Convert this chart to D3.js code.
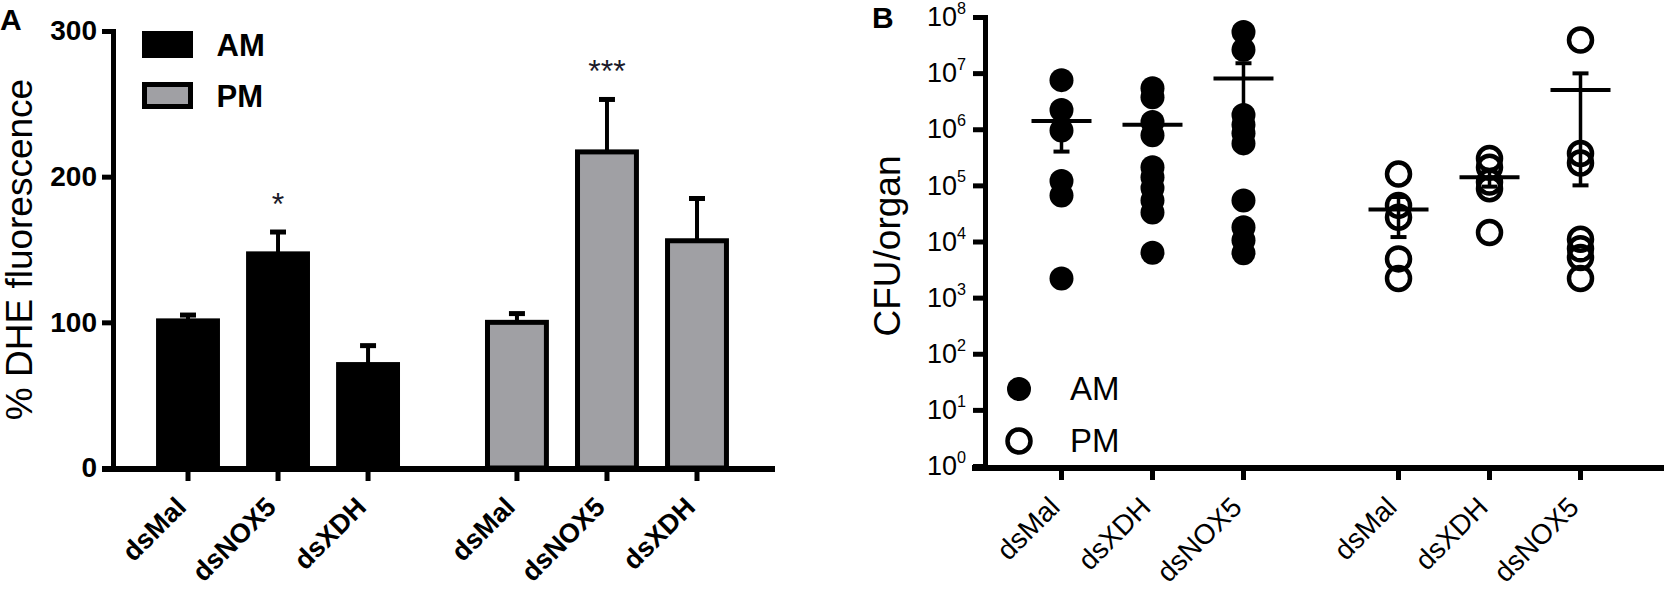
<!DOCTYPE html>
<html>
<head>
<meta charset="utf-8">
<script src="https://cdn.jsdelivr.net/npm/d3@7"></script>
<style>
    body { margin: 0; background: #fff; }
    svg { display: block; }
</style>
</head>
<body>
<svg id="chart" width="1669" height="592"></svg>
<script>

// ---- Panel A data: % DHE fluorescence (bar = mean, whisker = SEM)
const groups = ["AM", "PM"];
const dheCategories = ["dsMal", "dsNOX5", "dsXDH"];
const dheAM = [101, 147, 71];
const dheAMErr = [4, 15, 13];
const dhePM = [100, 217, 156];
const dhePMErr = [6, 36, 29];
const dheAMStars = ["", "*", ""];
const dhePMStars = ["", "***", ""];
const dheTicks = [0, 100, 200, 300];

// ---- Panel B data: CFU/organ (one value per animal, mean and SEM)
const cfuCategories = ["dsMal", "dsXDH", "dsNOX5"];
const cfuAMPoints = [
    [7.5e6, 2.2e6, 9.5e5, 1.2e5, 6.6e4, 2.2e3],
    [5.4e6, 3.7e6, 1.35e6, 7.8e5, 2.1e5, 1.4e5, 9e4, 5.4e4, 3.3e4, 6.3e3],
    [5.4e7, 2.6e7, 1.8e6, 1.2e6, 8.5e5, 5.6e5, 5.4e4, 1.8e4, 1.05e4, 6.2e3]
];
const cfuPMPoints = [
    [1.6e5, 4.4e4, 2.7e4, 4.9e3, 2.2e3],
    [3e5, 2.1e5, 1.15e5, 8.7e4, 1.45e4],
    [3.9e7, 3.7e5, 2.5e5, 1.1e4, 7.4e3, 5.2e3, 2.2e3]
];
const cfuAMMean = [1.4e6, 1.2e6, 8e6];
const cfuAMSem = [1.0e6, 5.5e5, 7e6];
const cfuPMMean = [3.7e4, 1.4e5, 5e6];
const cfuPMSem = [2.5e4, 4.5e4, 4.9e6];
const cfuTicks = [1, 1e1, 1e2, 1e3, 1e4, 1e5, 1e6, 1e7, 1e8];

const font = "'Liberation Sans', Arial, Helvetica, sans-serif";
const gray = "#a0a0a4";
const svg = d3.select("#chart").attr("font-family", font);

/**
 * Draws panel A, the grouped bar chart.
 */
function drawPanelA() {
    let g = svg.append("g");

    let y = d3.scaleLinear().domain([0, 300]).range([468, 31]);
    let x0 = d3.scaleBand().domain(groups).range([143, 742]).paddingInner(0.179);
    let x1 = d3.scaleBand()
        .domain(dheCategories)
        .range([0, x0.bandwidth()])
        .paddingInner(0.29)
        .paddingOuter(0.145);

    let rows = [];
    dheCategories.forEach((c, i) => {
        rows.push({group: "AM", cat: c, value: dheAM[i], err: dheAMErr[i], star: dheAMStars[i]});
    });
    dheCategories.forEach((c, i) => {
        rows.push({group: "PM", cat: c, value: dhePM[i], err: dhePMErr[i], star: dhePMStars[i]});
    });
    let cx = d => x0(d.group) + x1(d.cat) + x1.bandwidth() / 2;

    // bars
    g.selectAll("rect.bar")
        .data(rows)
        .join("rect")
        .attr("class", "bar")
        .attr("x", d => x0(d.group) + x1(d.cat) + 2.5)
        .attr("width", x1.bandwidth() - 5)
        .attr("y", d => y(d.value))
        .attr("height", d => y(0) - y(d.value))
        .attr("fill", d => d.group === "AM" ? "#000" : gray)
        .attr("stroke", "#000")
        .attr("stroke-width", 5);

    // SEM whiskers (upper only)
    g.selectAll("line.err")
        .data(rows)
        .join("line")
        .attr("class", "err")
        .attr("x1", cx).attr("x2", cx)
        .attr("y1", d => y(d.value))
        .attr("y2", d => y(d.value + d.err))
        .attr("stroke", "#000")
        .attr("stroke-width", 4);

    g.selectAll("line.cap")
        .data(rows)
        .join("line")
        .attr("class", "cap")
        .attr("x1", d => cx(d) - 8).attr("x2", d => cx(d) + 8)
        .attr("y1", d => y(d.value + d.err))
        .attr("y2", d => y(d.value + d.err))
        .attr("stroke", "#000")
        .attr("stroke-width", 5);

    g.selectAll("text.star")
        .data(rows.filter(d => d.star))
        .join("text")
        .attr("class", "star")
        .attr("x", cx)
        .attr("y", d => y(d.value + d.err) - 17)
        .attr("text-anchor", "middle")
        .attr("font-size", 32)
        .attr("fill", "#1a1a2a")
        .text(d => d.star);

    // y axis
    g.append("g")
        .attr("transform", "translate(113,0)")
        .call(d3.axisLeft(y).tickValues(dheTicks).tickSize(11).tickSizeOuter(0).tickPadding(5))
        .call(a => a.select(".domain").attr("stroke-width", 5).attr("stroke-linecap", "square"))
        .call(a => a.selectAll(".tick line").attr("stroke-width", 5))
        .call(a => a.selectAll(".tick text")
            .attr("font-size", 28)
            .attr("font-weight", "bold")
            .attr("font-family", font)
            .attr("fill", "#000"));

    // x axis
    g.append("line")
        .attr("x1", 102).attr("x2", 775)
        .attr("y1", y(0) + 1).attr("y2", y(0) + 1)
        .attr("stroke", "#000")
        .attr("stroke-width", 6);

    g.selectAll("line.xtick")
        .data(rows)
        .join("line")
        .attr("class", "xtick")
        .attr("x1", cx).attr("x2", cx)
        .attr("y1", y(0)).attr("y2", y(0) + 13)
        .attr("stroke", "#000")
        .attr("stroke-width", 5);

    g.selectAll("text.xlabel")
        .data(rows)
        .join("text")
        .attr("class", "xlabel")
        .attr("transform", d => `translate(${cx(d) - 7},502) rotate(-45)`)
        .attr("dy", "0.35em")
        .attr("text-anchor", "end")
        .attr("font-size", 27)
        .attr("font-weight", "bold")
        .text(d => d.cat);

    // axis title and panel letter
    g.append("text")
        .attr("transform", `translate(32,${(y(0) + y(300)) / 2}) rotate(-90)`)
        .attr("text-anchor", "middle")
        .attr("font-size", 37)
        .text("% DHE fluorescence");

    g.append("text")
        .attr("x", 0).attr("y", 30)
        .attr("font-size", 30)
        .attr("font-weight", "bold")
        .text("A");

    // legend
    let legend = g.append("g")
        .selectAll("g")
        .data(groups)
        .join("g")
        .attr("transform", (d, i) => `translate(144.5,${33.5 + i * 51})`);

    legend.append("rect")
        .attr("width", 46)
        .attr("height", 22)
        .attr("fill", d => d === "AM" ? "#000" : gray)
        .attr("stroke", "#000")
        .attr("stroke-width", 5);

    legend.append("text")
        .attr("x", 72)
        .attr("y", 22)
        .attr("font-size", 31)
        .attr("font-weight", "bold")
        .text(d => d);
}

/**
 * Draws panel B, the log-scale dot plot with mean and SEM.
 */
function drawPanelB() {
    let g = svg.append("g");

    let y = d3.scaleLog().domain([1, 1e8]).range([466, 17]);
    let x0 = d3.scaleBand().domain(groups).range([1016, 1626]).paddingInner(0.19);
    let x1 = d3.scaleBand()
        .domain(cfuCategories)
        .range([0, x0.bandwidth()])
        .paddingInner(0.29)
        .paddingOuter(0.145);
    let cx = d => x0(d.group) + x1(d.cat) + x1.bandwidth() / 2;

    let points = [];
    let stats = [];
    cfuCategories.forEach((c, i) => {
        cfuAMPoints[i].forEach(v => points.push({group: "AM", cat: c, value: v}));
        stats.push({group: "AM", cat: c, mean: cfuAMMean[i], sem: cfuAMSem[i]});
    });
    cfuCategories.forEach((c, i) => {
        cfuPMPoints[i].forEach(v => points.push({group: "PM", cat: c, value: v}));
        stats.push({group: "PM", cat: c, mean: cfuPMMean[i], sem: cfuPMSem[i]});
    });

    // points
    g.selectAll("circle.pt")
        .data(points)
        .join("circle")
        .attr("class", "pt")
        .attr("cx", cx)
        .attr("cy", d => y(d.value))
        .attr("r", d => d.group === "AM" ? 12 : 11.5)
        .attr("fill", d => d.group === "AM" ? "#000" : "none")
        .attr("stroke", "#000")
        .attr("stroke-width", d => d.group === "AM" ? 0 : 4.5);

    // mean line
    g.selectAll("line.mean")
        .data(stats)
        .join("line")
        .attr("class", "mean")
        .attr("x1", d => cx(d) - 30).attr("x2", d => cx(d) + 30)
        .attr("y1", d => y(d.mean)).attr("y2", d => y(d.mean))
        .attr("stroke", "#000")
        .attr("stroke-width", 4);

    // SEM bars
    g.selectAll("line.sem")
        .data(stats)
        .join("line")
        .attr("class", "sem")
        .attr("x1", cx).attr("x2", cx)
        .attr("y1", d => y(d.mean - d.sem)).attr("y2", d => y(d.mean + d.sem))
        .attr("stroke", "#000")
        .attr("stroke-width", 3.5);

    let caps = stats.flatMap(d => [d.mean - d.sem, d.mean + d.sem].map(v => ({...d, v: v})));
    g.selectAll("line.cap")
        .data(caps)
        .join("line")
        .attr("class", "cap")
        .attr("x1", d => cx(d) - 8).attr("x2", d => cx(d) + 8)
        .attr("y1", d => y(d.v)).attr("y2", d => y(d.v))
        .attr("stroke", "#000")
        .attr("stroke-width", 4);

    // y axis
    g.append("g")
        .attr("transform", "translate(985,0)")
        .call(d3.axisLeft(y).tickValues(cfuTicks).tickSize(12).tickSizeOuter(0).tickPadding(7))
        .call(a => a.select(".domain").attr("stroke-width", 5).attr("stroke-linecap", "square"))
        .call(a => a.selectAll(".tick line").attr("stroke-width", 5))
        .call(a => a.selectAll(".tick text")
            .attr("font-size", 27)
            .attr("font-family", font)
            .attr("fill", "#000")
            .text(null)
            .call(t => t.append("tspan").text("10"))
            .call(t => t.append("tspan")
                .attr("dy", "-0.75em")
                .attr("font-size", "0.6em")
                .text(d => Math.round(Math.log10(d)))));

    // x axis
    g.append("line")
        .attr("x1", 972).attr("x2", 1664)
        .attr("y1", y(1) + 2).attr("y2", y(1) + 2)
        .attr("stroke", "#000")
        .attr("stroke-width", 6);

    g.selectAll("line.xtick")
        .data(stats)
        .join("line")
        .attr("class", "xtick")
        .attr("x1", cx).attr("x2", cx)
        .attr("y1", y(1)).attr("y2", y(1) + 14)
        .attr("stroke", "#000")
        .attr("stroke-width", 5);

    g.selectAll("text.xlabel")
        .data(stats)
        .join("text")
        .attr("class", "xlabel")
        .attr("transform", d => `translate(${cx(d) - 7},502) rotate(-45)`)
        .attr("dy", "0.35em")
        .attr("text-anchor", "end")
        .attr("font-size", 28)
        .text(d => d.cat);

    // axis title and panel letter
    g.append("text")
        .attr("transform", "translate(900,246) rotate(-90)")
        .attr("text-anchor", "middle")
        .attr("font-size", 37)
        .text("CFU/organ");

    g.append("text")
        .attr("x", 872).attr("y", 28)
        .attr("font-size", 30)
        .attr("font-weight", "bold")
        .text("B");

    // legend
    let legend = g.append("g")
        .selectAll("g")
        .data(groups)
        .join("g")
        .attr("transform", (d, i) => `translate(1019,${389 + i * 52})`);

    legend.append("circle")
        .attr("r", d => d === "AM" ? 12 : 11.5)
        .attr("fill", d => d === "AM" ? "#000" : "none")
        .attr("stroke", "#000")
        .attr("stroke-width", d => d === "AM" ? 0 : 4.5);

    legend.append("text")
        .attr("x", 51)
        .attr("y", 11)
        .attr("font-size", 33)
        .text(d => d);
}

drawPanelA();
drawPanelB();

</script>
</body>
</html>
